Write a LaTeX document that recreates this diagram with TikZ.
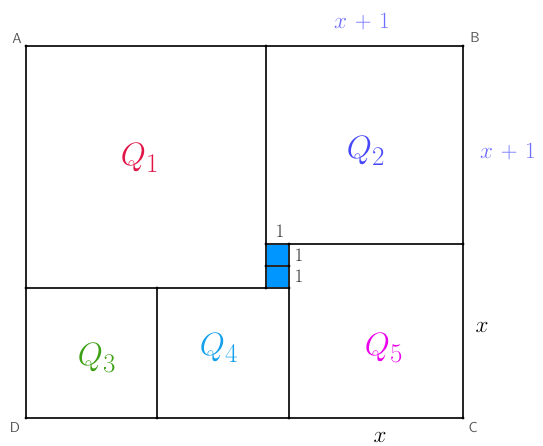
\documentclass[tikz,border=0pt]{standalone}
\usepackage{graphicx}
\usepackage{tikz}
\definecolor{qone}{RGB}{225,20,70}
\definecolor{qtwo}{RGB}{70,70,250}
\definecolor{qthree}{RGB}{60,160,20}
\definecolor{qfour}{RGB}{20,160,235}
\definecolor{qfive}{RGB}{235,0,235}
\definecolor{lblue}{RGB}{110,110,255}
\definecolor{sqfill}{RGB}{0,150,255}
\definecolor{edge}{RGB}{40,40,40}
\newcommand\qbig[1]{\scalebox{1.3}{\Huge$#1$}}
\newcommand\lenlab[1]{\scalebox{1.12}{\huge$#1$}}
\newcommand\onelab[1]{\scalebox{1.1}{\LARGE #1}}
\tikzset{
  seg/.style={draw=edge,line width=1.5pt},
  pt/.style={circle,fill=black,inner sep=0pt,minimum size=3.2pt},
  corner/.style={font=\sffamily\Large,text=black!68},
  one/.style={text=edge},
}
\begin{document}
\begin{tikzpicture}[x=1pt,y=-1pt]
\useasboundingbox (0,0) rectangle (543,446);
% points
\coordinate (A) at (26,46);
\coordinate (B) at (463,46);
\coordinate (C) at (463,418);
\coordinate (D) at (26,418);
\coordinate (T) at (266,46);
\coordinate (R) at (463,244);
\coordinate (s1) at (266,244);
\coordinate (s2) at (289,244);
\coordinate (s3) at (266,266);
\coordinate (s4) at (289,266);
\coordinate (s5) at (266,288);
\coordinate (s6) at (289,288);
\coordinate (L) at (26,288);
\coordinate (M) at (157,288);
\coordinate (Mb) at (157,418);
\coordinate (Nb) at (289,418);
% small squares
\fill[sqfill] (s1) rectangle (s6);
% lines
\draw[seg] (A) -- (B) -- (C) -- (D) -- cycle;
\draw[seg] (T) -- (s1) -- (s5);
\draw[seg] (s1) -- (s2) -- (R);
\draw[seg] (s3) -- (s4);
\draw[seg] (L) -- (s6);
\draw[seg] (s2) -- (Nb);
\draw[seg] (M) -- (Mb);
% dots
\foreach \p in {A,B,C,D,T,R,s1,s2,s3,s4,s5,s6,L,M,Mb,Nb} \node[pt] at (\p) {};
% corner labels
\node[corner] (lA) at (17,39) {A};
\node[corner] (lB) at (475,38) {B};
\node[corner] (lC) at (473,428) {C};
\node[corner] (lD) at (15,428) {D};
% Q labels
\node[text=qone] (q1) at (140,158) {\qbig{Q_1}};
\node[text=qtwo] (q2) at (366,151) {\qbig{Q_2}};
\node[text=qthree] (q3) at (97,358) {\qbig{Q_3}};
\node[text=qfour] (q4) at (219,348) {\qbig{Q_4}};
\node[text=qfive] (q5) at (384,348) {\qbig{Q_5}};
% small labels
\node[one] (o1) at (280,231) {\onelab{1}};
\node[one] (o2) at (299,255) {\onelab{1}};
\node[one] (o3) at (299,276) {\onelab{1}};
% lengths
\node[text=lblue] (xa) at (362,22) {\lenlab{x\mkern2mu+\mkern2mu1}};
\node[text=lblue] (xb) at (508,152) {\lenlab{x\mkern2mu+\mkern2mu1}};
\node (xc) at (482,327) {\lenlab{x}};
\node (xd) at (380,437) {\lenlab{x}};
\end{tikzpicture}
\end{document}
